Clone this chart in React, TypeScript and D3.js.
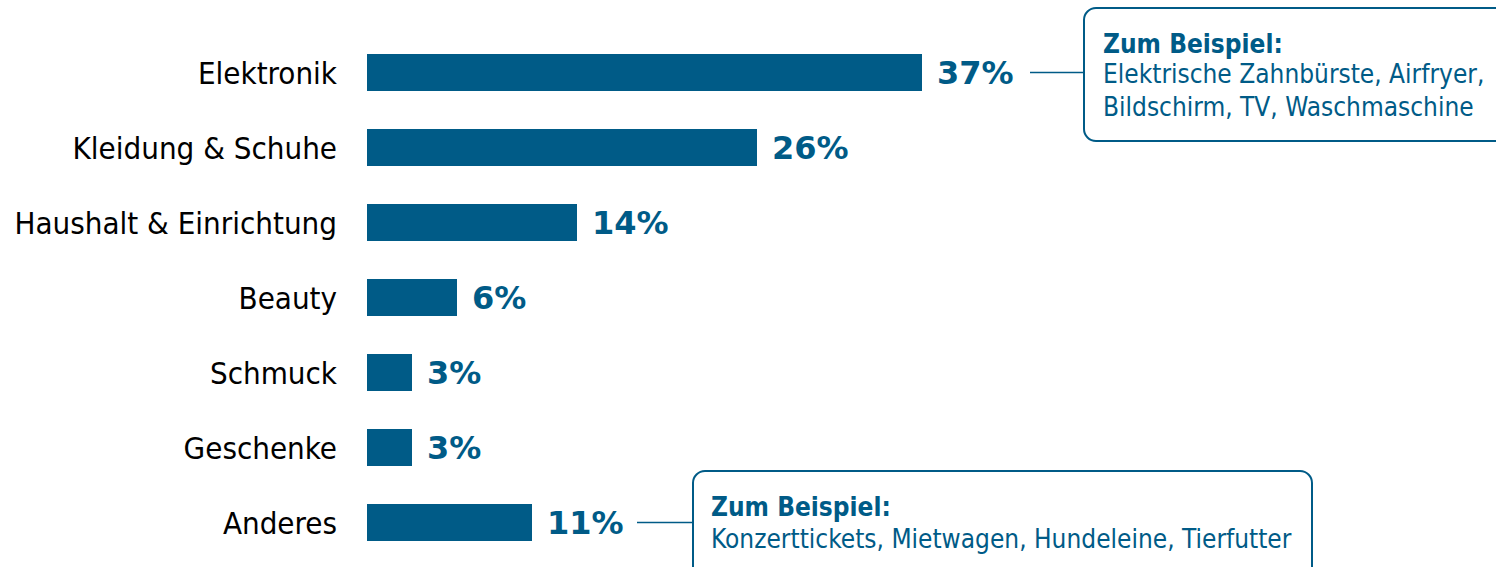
import React from "react";
import * as d3 from "d3";

const categories = ["Elektronik", "Kleidung & Schuhe", "Haushalt & Einrichtung", "Beauty", "Schmuck", "Geschenke", "Anderes"];
const values = [37, 26, 14, 6, 3, 3, 11];
const calloutTitle = "Zum Beispiel:";
const callout1Lines = ["Elektrische Zahnbürste, Airfryer,", "Bildschirm, TV, Waschmaschine"];
const callout2Lines = ["Konzerttickets, Mietwagen, Hundeleine, Tierfutter"];

const W = 1496;
const H = 567;
const BLUE = "#005b87";
const COND = "'DejaVu Sans Condensed', 'DejaVu Sans', sans-serif";
const SANS = "'DejaVu Sans', Verdana, sans-serif";

export default function App() {
  const x = d3.scaleLinear().domain([0, 37]).range([367, 922]);
  const y = d3
    .scaleBand<string>()
    .domain(categories)
    .range([54, 54 + 6 * 75 + 37])
    .paddingInner(38 / 75)
    .paddingOuter(0);
  const bw = y.bandwidth();
  const cy = (c: string) => (y(c) as number) + bw / 2;

  return (
    <svg width={W} height={H} style={{ position: "absolute", left: 0, top: 0, background: "#fff" }}>
      {categories.map((c, i) => (
        <g key={c}>
          <text
            x={337}
            y={cy(c)}
            dy="0.36em"
            textAnchor="end"
            fontFamily={COND}
            fontStretch="condensed"
            fontSize={31}
            fill="#000"
          >
            {c}
          </text>
          <rect x={x(0)} y={y(c)} width={x(values[i]) - x(0)} height={bw} fill={BLUE} />
          <text
            x={x(values[i]) + 15}
            y={cy(c)}
            dy="0.37em"
            fontFamily={SANS}
            fontWeight="bold"
            fontSize={32}
            fill={BLUE}
          >
            {values[i]}%
          </text>
        </g>
      ))}

      {/* Callout 1 */}
      <line x1={1030} x2={1084} y1={cy(categories[0])} y2={cy(categories[0])} stroke={BLUE} strokeWidth={1.5} />
      <rect x={1084} y={8} width={430} height={133} rx={12} ry={12} fill="#fff" stroke={BLUE} strokeWidth={2} />
      <text x={1103} y={53} fontFamily={COND} fontStretch="condensed" fontWeight="bold" fontSize={26} fill={BLUE}>
        {calloutTitle}
      </text>
      {callout1Lines.map((l, i) => (
        <text key={l} x={1103} y={83 + i * 33} fontFamily={COND} fontStretch="condensed" fontSize={26} fill={BLUE}>
          {l}
        </text>
      ))}

      {/* Callout 2 */}
      <line x1={637} x2={693} y1={cy(categories[6])} y2={cy(categories[6])} stroke={BLUE} strokeWidth={1.5} />
      <rect x={693} y={471} width={619} height={120} rx={12} ry={12} fill="#fff" stroke={BLUE} strokeWidth={2} />
      <text x={711} y={516} fontFamily={COND} fontStretch="condensed" fontWeight="bold" fontSize={26} fill={BLUE}>
        {calloutTitle}
      </text>
      {callout2Lines.map((l, i) => (
        <text key={l} x={711} y={548 + i * 33} fontFamily={COND} fontStretch="condensed" fontSize={26} fill={BLUE}>
          {l}
        </text>
      ))}
    </svg>
  );
}
